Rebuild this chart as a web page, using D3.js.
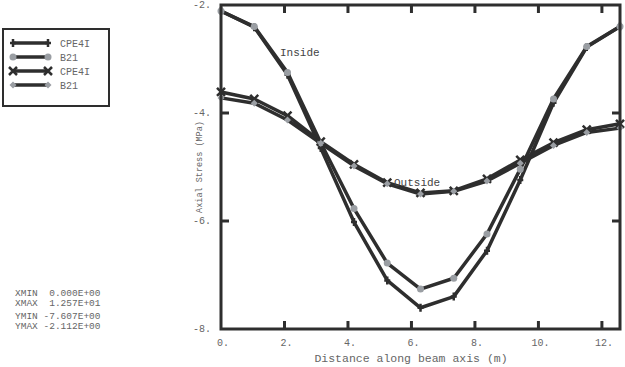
<!DOCTYPE html>
<html><head><meta charset="utf-8">
<script src="https://cdn.jsdelivr.net/npm/d3@7"></script>
<style>body{margin:0;background:#fff}svg{display:block}text{font-family:"Liberation Mono","DejaVu Sans Mono",monospace;fill:#666}</style>
</head><body>
<script>
const xs = [0, 1.0475, 2.095, 3.1425, 4.19, 5.2375, 6.285, 7.3325, 8.38, 9.4275, 10.475, 11.5225, 12.57];
const insideCPE = [-2.112, -2.41, -3.29, -4.65, -6.02, -7.10, -7.607, -7.40, -6.55, -5.24, -3.81, -2.78, -2.40];
const insideB21 = [-2.112, -2.40, -3.25, -4.55, -5.77, -6.78, -7.26, -7.06, -6.24, -5.04, -3.74, -2.77, -2.40];
const outsideCPE = [-3.61, -3.74, -4.05, -4.53, -4.95, -5.29, -5.48, -5.44, -5.22, -4.87, -4.55, -4.31, -4.20];
const outsideB21 = [-3.72, -3.82, -4.13, -4.56, -4.98, -5.31, -5.50, -5.45, -5.26, -4.93, -4.60, -4.36, -4.28];
const xTicks = [0, 2, 4, 6, 8, 10, 12];
const yTicks = [-2, -4, -6, -8];
const legendLabels = ["CPE4I", "B21", "CPE4I", "B21"];
const statLines = ["XMIN  0.000E+00", "XMAX  1.257E+01", "YMIN -7.607E+00", "YMAX -2.112E+00"];

const W = 625, H = 367;
const svg = d3.select("body").append("svg").attr("width", W).attr("height", H);
const x = d3.scaleLinear().domain([0, 12.57]).range([221, 620]);
const y = d3.scaleLinear().domain([-8, -2]).range([329, 5]);
const dark = "#2e2e2e", gray = "#9a9ea3";

const series = [
  {vals: insideCPE, marker: "plus"},
  {vals: insideB21, marker: "circle"},
  {vals: outsideCPE, marker: "x"},
  {vals: outsideB21, marker: "diamond"}
];
const line = d3.line().x((d,i)=>x(xs[i])).y(d=>y(d));

function drawMarker(g, type, cx, cy) {
  if (type === "plus") {
    g.append("path").attr("d",`M${cx},${cy-4}L${cx},${cy+4}M${cx-3},${cy}L${cx+3},${cy}`).attr("stroke",dark).attr("stroke-width",2.5);
  } else if (type === "circle") {
    g.append("circle").attr("cx",cx).attr("cy",cy).attr("r",3.5).attr("fill",gray);
  } else if (type === "x") {
    g.append("path").attr("d",`M${cx-4},${cy-4}L${cx+4},${cy+4}M${cx-4},${cy+4}L${cx+4},${cy-4}`).attr("stroke",dark).attr("stroke-width",2.5);
  } else {
    g.append("path").attr("d",`M${cx},${cy-3.5}L${cx+3.5},${cy}L${cx},${cy+3.5}L${cx-3.5},${cy}Z`).attr("fill",gray);
  }
}

const plot = svg.append("g");
series.forEach(s => {
  plot.append("path").datum(s.vals).attr("d", line).attr("fill","none").attr("stroke",dark).attr("stroke-width",3.5).attr("stroke-linejoin","round");
});
series.forEach(s => {
  s.vals.forEach((v,i) => drawMarker(plot, s.marker, x(xs[i]), y(v)));
});

// frame
const fr = svg.append("g");
fr.append("rect").attr("x",x(0)).attr("y",y(-2)).attr("width",x(12.57)-x(0)).attr("height",y(-8)-y(-2))
  .attr("fill","none").attr("stroke",dark).attr("stroke-width",3);
xTicks.filter(t=>t>0).forEach(t=>{
  fr.append("line").attr("x1",x(t)).attr("x2",x(t)).attr("y1",y(-8)).attr("y2",y(-8)-8).attr("stroke",dark).attr("stroke-width",3);
  fr.append("line").attr("x1",x(t)).attr("x2",x(t)).attr("y1",y(-2)).attr("y2",y(-2)+8).attr("stroke",dark).attr("stroke-width",3);
});
yTicks.filter(t=>t>-8 && t<-2).forEach(t=>{
  fr.append("line").attr("x1",x(0)).attr("x2",x(0)+8).attr("y1",y(t)).attr("y2",y(t)).attr("stroke",dark).attr("stroke-width",3);
  fr.append("line").attr("x1",x(12.57)).attr("x2",x(12.57)-8).attr("y1",y(t)).attr("y2",y(t)).attr("stroke",dark).attr("stroke-width",3);
});
xTicks.forEach(t=>{
  svg.append("text").attr("x",x(t)+2).attr("y",346).attr("text-anchor","middle").attr("font-size",10).text(t+".");
});
yTicks.forEach(t=>{
  svg.append("text").attr("x",211).attr("y",y(t)+3).attr("text-anchor","end").attr("font-size",10).text(t+".");
});
svg.append("text").attr("x",411).attr("y",362).attr("text-anchor","middle").attr("font-size",11.5).text("Distance along beam axis (m)");
svg.append("text").attr("transform","translate(202,167) rotate(-90)").attr("text-anchor","middle").attr("font-size",8.5).text("Axial Stress (MPa)");
svg.append("text").attr("x",280).attr("y",56).attr("font-size",11).style("fill","#444").text("Inside");
svg.append("text").attr("x",394).attr("y",186).attr("font-size",11).style("fill","#444").text("Outside");

// legend
svg.append("rect").attr("x",3).attr("y",29).attr("width",106).attr("height",77).attr("fill","none").attr("stroke",dark).attr("stroke-width",2);
const ly = [43, 57, 71, 85];
series.forEach((s,i)=>{
  svg.append("line").attr("x1",13).attr("x2",48).attr("y1",ly[i]).attr("y2",ly[i]).attr("stroke",dark).attr("stroke-width",3.5);
  drawMarker(svg, s.marker, 13, ly[i]);
  drawMarker(svg, s.marker, 48, ly[i]);
  svg.append("text").attr("x",60).attr("y",ly[i]+3.5).attr("font-size",10).text(legendLabels[i]);
});

// stats
const sy = [296, 306, 319, 329];
statLines.forEach((t,i)=>{
  svg.append("text").attr("x",15).attr("y",sy[i]).attr("font-size",9.5).attr("xml:space","preserve").style("white-space","pre").text(t);
});
</script>
</body></html>
